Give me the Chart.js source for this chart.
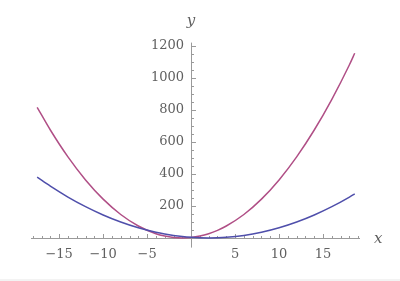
<!DOCTYPE html>
<html>
<head>
<meta charset="utf-8">
<script src="https://cdn.jsdelivr.net/npm/chart.js@4/dist/chart.umd.min.js"></script>
<style>
  html, body { margin: 0; padding: 0; background: #fff; }
  #wrap { position: relative; width: 400px; height: 281px; }
  #strip { position: absolute; left: 0; right: 0; bottom: 0; height: 2px; background: #f3f3f3; }
</style>
</head>
<body>
<div id="wrap">
  <canvas id="plot" width="400" height="281"></canvas>
  <div id="strip"></div>
</div>
<script>
// sample positions
const xs = [-17.5, -16, -14, -12, -10, -8, -6, -4, -3, -2, -1, 0, 1, 2, 3, 4, 6, 8, 10, 12, 14, 16, 18, 18.6];
// lower (blue) curve
const blueVals = [380, 324, 256, 196, 144, 100, 64, 36, 25, 16, 9, 4, 1, 0, 1, 4, 16, 36, 64, 100, 144, 196, 256, 276];
// steeper (magenta) curve
const redVals = [817, 675, 507, 363, 243, 147, 75, 27, 12, 3, 0, 3, 12, 27, 48, 75, 147, 243, 363, 507, 675, 867, 1083, 1155];
// tick labels
const xTicks = [-15, -10, -5, 5, 10, 15];
const yTicks = [200, 400, 600, 800, 1000, 1200];

const toPoints = vals => vals.map((v, i) => ({ x: xs[i], y: v }));

// axes through the origin, drawn with the chart's scales
const originAxes = {
    id: 'originAxes',
    beforeDatasetsDraw(chart) {
        const { ctx, scales: { x, y } } = chart;
        const x0 = x.getPixelForValue(0);
        const y0 = y.getPixelForValue(0);
        ctx.save();
        ctx.strokeStyle = '#9a9a9a';
        ctx.lineWidth = 1;

        // x axis
        ctx.beginPath();
        ctx.moveTo(x.left, Math.round(y0) + 0.5);
        ctx.lineTo(x.right, Math.round(y0) + 0.5);
        // y axis
        ctx.moveTo(Math.round(x0) + 0.5, y.top + 3);
        ctx.lineTo(Math.round(x0) + 0.5, y.bottom);
        ctx.stroke();

        // x ticks (minor every 1, major every 5)
        ctx.beginPath();
        for (let v = -18; v <= 19; v++) {
            if (v === 0) continue;
            const px = Math.round(x.getPixelForValue(v)) + 0.5;
            const len = v % 5 === 0 ? 4 : 2;
            ctx.moveTo(px, Math.round(y0));
            ctx.lineTo(px, Math.round(y0) - len);
        }
        // y ticks (minor every 50, major every 200)
        for (let v = 50; v <= 1200; v += 50) {
            const py = Math.round(y.getPixelForValue(v)) + 0.5;
            const len = v % 200 === 0 ? 4 : 2;
            ctx.moveTo(Math.round(x0) + 1, py);
            ctx.lineTo(Math.round(x0) + 1 + len, py);
        }
        ctx.stroke();

        // labels
        ctx.fillStyle = '#606060';
        ctx.font = '13px "DejaVu Serif", "Liberation Serif", serif';
        ctx.textAlign = 'center';
        ctx.textBaseline = 'middle';
        xTicks.forEach(v => {
            const label = v < 0 ? '\u2212' + Math.abs(v) : String(v);
            ctx.fillText(label, x.getPixelForValue(v), y0 + 17);
        });
        ctx.textAlign = 'right';
        yTicks.forEach(v => {
            ctx.fillText(String(v), x0 - 7, y.getPixelForValue(v));
        });

        ctx.font = 'italic 15px "DejaVu Serif", "Liberation Serif", serif';
        ctx.textAlign = 'left';
        ctx.fillText('x', x.right + 14, y0 + 1);
        ctx.textAlign = 'center';
        ctx.fillText('y', x0, 21);
        ctx.restore();
    }
};

new Chart(document.getElementById('plot').getContext('2d'), {
    type: 'line',
    data: {
        datasets: [{
            data: toPoints(blueVals),
            borderColor: '#4f4fab',
            borderWidth: 1.5,
            pointRadius: 0,
            cubicInterpolationMode: 'monotone',
            fill: false
        }, {
            data: toPoints(redVals),
            borderColor: '#b04f86',
            borderWidth: 1.5,
            pointRadius: 0,
            cubicInterpolationMode: 'monotone',
            fill: false
        }]
    },
    options: {
        responsive: false,
        animation: false,
        events: [],
        layout: {
            padding: { left: 31, right: 40, top: 39.6, bottom: 33.4 }
        },
        plugins: {
            legend: { display: false },
            tooltip: { enabled: false }
        },
        scales: {
            x: { type: 'linear', min: -18.2, max: 19.2, display: false },
            y: { type: 'linear', min: -60, max: 1240, display: false }
        }
    },
    plugins: [originAxes]
});
</script>
</body>
</html>
